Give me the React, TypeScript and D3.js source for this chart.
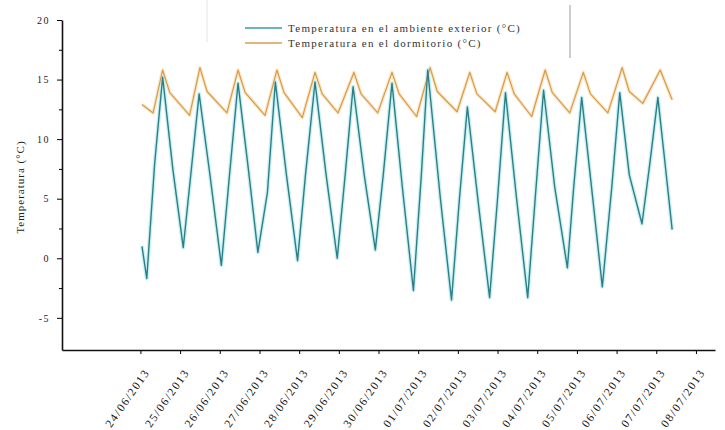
import React, { useRef, useEffect } from 'react';
import * as d3 from 'd3';

// hours since the first reading
const outdoorHours = [0, 3, 8, 13, 19.5, 26, 31.5, 36, 43, 50, 55, 60.5, 67, 73, 79, 84, 91, 98, 103, 109, 116, 123, 128, 133, 140, 147, 152, 157.5, 164, 171, 176, 180, 188, 195, 200, 205, 212, 219, 224, 229, 236, 243, 248, 253, 260, 268, 272, 277, 284, 290, 296, 301, 307, 315, 320, 325, 329.5, 334];
const outdoorTemp = [1.0, -1.7, 8, 15.2, 7.4, 0.9, 8, 13.8, 6.8, -0.6, 6.8, 14.7, 7.5, 0.5, 5.5, 14.8, 7, -0.2, 7, 14.8, 7, 0, 7, 14.4, 7, 0.7, 7, 14.7, 6, -2.7, 7, 15.8, 5, -3.5, 5, 12.7, 4.5, -3.3, 5, 13.9, 5, -3.3, 5.5, 14.1, 6, -0.8, 6, 13.5, 5, -2.4, 6, 13.9, 7, 2.9, 8, 13.5, 8, 2.4];

const bedroomHours = [0, 7, 13, 17.5, 30, 36.5, 41, 53.5, 60.5, 65, 77.5, 85, 89.5, 101, 109, 113.5, 123.5, 133.5, 138, 148.5, 157.5, 162, 173, 181.5, 186, 198.5, 206.5, 211, 222.5, 230, 234.5, 245.5, 254, 258.5, 269.5, 278, 282.5, 293.5, 302.5, 307, 315.5, 326.5, 331, 334];
const bedroomTemp = [12.9, 12.2, 15.8, 13.9, 12.0, 16.0, 14.0, 12.2, 15.8, 13.9, 12.0, 15.8, 13.9, 11.8, 15.6, 13.8, 12.2, 15.6, 13.8, 12.2, 15.6, 13.8, 11.9, 16.0, 14.0, 12.3, 15.6, 13.8, 12.3, 15.6, 13.8, 11.9, 15.8, 13.9, 12.2, 15.6, 13.8, 12.2, 16.0, 14.0, 13.0, 15.8, 14.3, 13.3];

const dateLabels = ['24/06/2013', '25/06/2013', '26/06/2013', '27/06/2013', '28/06/2013', '29/06/2013', '30/06/2013', '01/07/2013', '02/07/2013', '03/07/2013', '04/07/2013', '05/07/2013', '06/07/2013', '07/07/2013', '08/07/2013'];
const tickHours = [-1, 24, 49, 74, 99, 124, 149, 174, 199, 224, 249, 274, 299, 324, 349];
const yTicks = [-5, 0, 5, 10, 15, 20];
const yMinor = [-2.5, 2.5, 7.5, 12.5, 17.5];

const seriesNames = ['Temperatura en el ambiente exterior (°C)', 'Temperatura en el dormitorio (°C)'];
const W = 725, H = 430;
const FONT = '"Liberation Serif", "Times New Roman", serif';

const App = () => {
  const svgRef = useRef(null);

  useEffect(() => {
    const svg = d3.select(svgRef.current);
    svg.selectAll('*').remove();

    const x = d3.scaleLinear().domain([-50.4, 361]).range([62, 715]);
    const y = d3.scaleLinear().domain([-7.7, 20]).range([350, 20]);

    // faint legend frame remnants
    svg.append('line').attr('x1', 207).attr('x2', 207).attr('y1', 0).attr('y2', 42)
      .attr('stroke', '#e4e4e4').attr('stroke-width', 1);
    svg.append('line').attr('x1', 570).attr('x2', 570).attr('y1', 5).attr('y2', 58)
      .attr('stroke', '#9a9a9a').attr('stroke-width', 1);

    const line = d3.line()
      .x(d => x(d[0]))
      .y(d => y(d[1]));

    const bedroom = bedroomHours.map((h, i) => [h, bedroomTemp[i]]);
    const outdoor = outdoorHours.map((h, i) => [h, outdoorTemp[i]]);

    svg.append('path').attr('d', line(bedroom)).attr('fill', 'none')
      .attr('stroke', '#fbe7c8').attr('stroke-width', 3.5).attr('stroke-linejoin', 'round');
    svg.append('path').attr('d', line(outdoor)).attr('fill', 'none')
      .attr('stroke', '#c9f1f3').attr('stroke-width', 4).attr('stroke-linejoin', 'round');
    svg.append('path').attr('d', line(bedroom)).attr('fill', 'none')
      .attr('stroke', '#d69c4c').attr('stroke-width', 1.2).attr('stroke-linejoin', 'round');
    svg.append('path').attr('d', line(outdoor)).attr('fill', 'none')
      .attr('stroke', '#2f7e86').attr('stroke-width', 1.4).attr('stroke-linejoin', 'round');

    // y axis
    const yAxis = svg.append('g').attr('transform', 'translate(62,0)')
      .call(d3.axisLeft(y).tickValues(yTicks).tickSize(5).tickSizeOuter(0).tickPadding(7).tickFormat(d => String(d)));
    svg.append('g').attr('transform', 'translate(62,0)')
      .call(d3.axisLeft(y).tickValues(yMinor).tickSize(3).tickSizeOuter(0).tickFormat(() => ''))
      .select('.domain').remove();
    yAxis.select('.domain').attr('stroke', '#111').attr('stroke-width', 1.6);
    yAxis.selectAll('text').style('font-family', FONT).style('font-size', '10px')
      .style('letter-spacing', '1.5px').attr('fill', '#222');

    // x axis
    const xAxis = svg.append('g').attr('transform', 'translate(0,350)')
      .call(d3.axisBottom(x).tickValues(tickHours).tickSize(4).tickSizeOuter(0)
        .tickFormat((d, i) => dateLabels[i]));
    xAxis.select('.domain').attr('stroke', '#111').attr('stroke-width', 1.6);
    xAxis.selectAll('text')
      .attr('x', 0).attr('y', 0).attr('dy', '0.35em')
      .attr('transform', 'translate(6,20) rotate(-55)')
      .style('text-anchor', 'end')
      .style('font-family', FONT).style('font-size', '11.5px').style('letter-spacing', '1.6px')
      .attr('fill', '#111');

    svg.append('text')
      .attr('transform', 'translate(24,187) rotate(-90)')
      .style('text-anchor', 'middle')
      .style('font-family', FONT).style('font-size', '11px').style('letter-spacing', '1px')
      .attr('fill', '#222')
      .text('Temperatura (°C)');

    // legend
    const legColors = ['#3a9aa8', '#d3a052'];
    seriesNames.forEach((name, i) => {
      const ly = 28 + i * 15;
      svg.append('line').attr('x1', 245).attr('x2', 282).attr('y1', ly).attr('y2', ly)
        .attr('stroke', legColors[i]).attr('stroke-width', 1.5);
      svg.append('text').attr('x', 288).attr('y', ly).attr('dy', '0.35em')
        .style('font-family', FONT).style('font-size', '11px').style('letter-spacing', '1.3px')
        .attr('fill', '#333')
        .text(name);
    });
  }, []);

  return (
    <svg
      ref={svgRef}
      width={W}
      height={H}
      style={{ position: 'absolute', left: 0, top: 0, background: '#fff' }}
    ></svg>
  );
};

export default App;
